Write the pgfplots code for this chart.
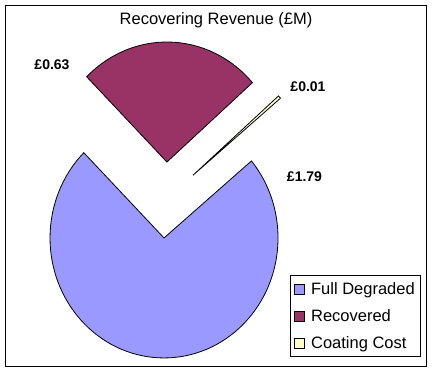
\documentclass[border=0pt]{standalone}
\usepackage{pgfplots}
\pgfplotsset{compat=1.18}
\usepackage{pgfplotstable}
\usepackage{fontspec}
\setmainfont{Liberation Sans}
\definecolor{fdcol}{HTML}{9999FF}
\definecolor{reccol}{HTML}{993366}
\definecolor{cccol}{HTML}{FFFFCC}

\pgfplotstableread[col sep=comma]{
name,value
Full Degraded,1.79
Recovered,0.63
Coating Cost,0.01
}\pietable

\pgfplotsset{sqleg/.style={legend image code/.code={\draw[##1,draw=black,line width=0.7bp] (0bp,-5bp) rectangle (10bp,5bp);\path (14bp,0bp);}}}

\newcommand\piewedge[4]{%
  \fill[#1,draw=black,line width=0.8bp]
    ([shift={(#4:36bp and 38bp)}]axis cs:165.7,173) -- ++(#2:114bp and 120bp)
    arc[start angle=#2,end angle=#3,x radius=114bp,y radius=120bp] -- cycle;}

\pgfplotstablegetelem{0}{value}\of\pietable \edef\vA{\pgfplotsretval}
\pgfplotstablegetelem{1}{value}\of\pietable \edef\vB{\pgfplotsretval}
\pgfplotstablegetelem{2}{value}\of\pietable \edef\vC{\pgfplotsretval}
\pgfmathsetmacro\tot{\vA+\vB+\vC}
\pgfmathsetmacro\dA{360*\vA/\tot}
\pgfmathsetmacro\dB{360*\vB/\tot}
\pgfmathsetmacro\dC{360*\vC/\tot}
\def\thz{41.4}
\pgfmathsetmacro\sB{\thz}
\pgfmathsetmacro\eB{\thz+\dB}
\pgfmathsetmacro\sA{\eB}
\pgfmathsetmacro\eA{\eB+\dA}
\pgfmathsetmacro\sC{\thz-\dC}
\pgfmathsetmacro\eC{\thz}
\pgfmathsetmacro\mA{(\sA+\eA)/2}
\pgfmathsetmacro\mB{(\sB+\eB)/2}
\pgfmathsetmacro\mC{(\sC+\eC)/2}

\begin{document}
\begin{tikzpicture}
\begin{axis}[
  name=ax,
  scale only axis, width=433bp, height=373bp,
  xmin=0, xmax=433, ymin=0, ymax=373,
  hide axis, clip=false,
  legend style={at={(0.6697,0.2627)}, anchor=north west, draw=black, line width=0.8bp,
    font=\fontsize{16.5bp}{19bp}\selectfont, row sep=9.5bp, inner xsep=4bp, inner ysep=5bp,
    cells={anchor=west}},
  legend cell align=left,
]
\draw[line width=1bp] (axis cs:5,6) rectangle (axis cs:426,367);
\piewedge{fdcol}{\sA}{\eA}{\mA}
\piewedge{reccol}{\sB}{\eB}{\mB}
\piewedge{cccol}{\sC}{\eC}{\mC}
\addlegendimage{sqleg,fill=fdcol}
\addlegendentry{Full Degraded}
\addlegendimage{sqleg,fill=reccol}
\addlegendentry{Recovered}
\addlegendimage{sqleg,fill=cccol}
\addlegendentry{Coating Cost}
\node[font=\fontsize{16.5bp}{20bp}\selectfont] at (axis cs:216,353) {Recovering Revenue (£M)};
\node[font=\bfseries\fontsize{14bp}{17bp}\selectfont] at (axis cs:52,308) {£0.63};
\node[font=\bfseries\fontsize{14bp}{17bp}\selectfont] at (axis cs:308,286) {£0.01};
\node[font=\bfseries\fontsize{14bp}{17bp}\selectfont] at (axis cs:304.5,196) {£1.79};
\end{axis}
\pgfresetboundingbox
\path[use as bounding box] (ax.south west) rectangle (ax.north east);
\end{tikzpicture}
\end{document}
